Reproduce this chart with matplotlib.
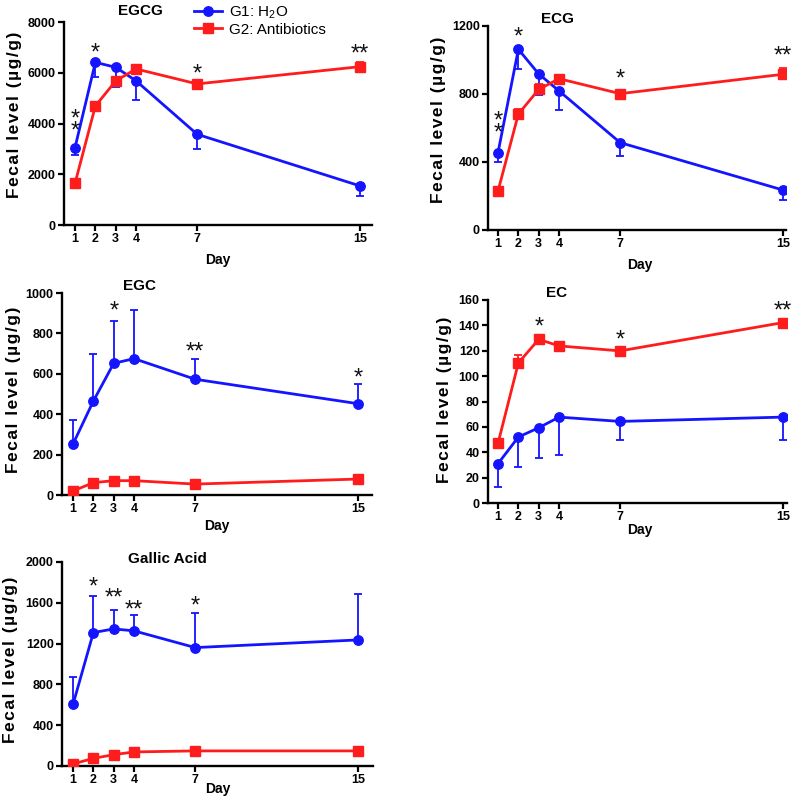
import numpy as np
import matplotlib
matplotlib.use("Agg")
import matplotlib.pyplot as plt

plt.rcParams['font.family'] = ['Liberation Sans', 'DejaVu Sans']
plt.rcParams['mathtext.fontset'] = 'custom'
plt.rcParams['mathtext.rm'] = 'Liberation Sans'

# ---------------- data ----------------
days = [1, 2, 3, 4, 7, 15]
compounds = ['EGCG', 'ECG', 'EGC', 'EC', 'Gallic Acid']

egcg_g1 = [3050, 6410, 6215, 5680, 3575, 1540]
egcg_g1_err = [290, 590, 785, 750, 575, 380]
egcg_g2 = [1640, 4690, 5680, 6150, 5560, 6240]
egcg_g2_err = [60, 100, 150, 100, 80, 170]

ecg_g1 = [455, 1063, 918, 818, 514, 235]
ecg_g1_err = [53, 116, 124, 112, 79, 59]
ecg_g2 = [229, 682, 827, 890, 802, 916]
ecg_g2_err = [10, 30, 32, 15, 12, 39]

egc_g1 = [252, 465, 652, 675, 573, 452]
egc_g1_err = [118, 235, 207, 242, 102, 98]
egc_g2 = [20, 61, 71, 71, 54, 79]
egc_g2_err = [5, 8, 8, 8, 6, 8]

ec_g1 = [31, 52, 59.3, 67.7, 64.3, 67.7]
ec_g1_err = [18, 24, 24, 30, 14.5, 18]
ec_g2 = [47, 110.4, 129, 123.8, 119.9, 142.2]
ec_g2_err = [1, 6.3, 3, 1.5, 1.5, 2]

ga_g1 = [603, 1308, 1344, 1325, 1161, 1236]
ga_g1_err = [272, 361, 181, 157, 337, 449]
ga_g2 = [20, 75, 111, 138, 148, 148]
ga_g2_err = [5, 10, 10, 10, 10, 10]

# significance marks: (day, y of the lowest star, label)
egcg_stars = [(1, 3980, '*\n*'), (2, 7056, '*'), (7, 6240, '*'), (15, 7030, '**')]
ecg_stars = [(1, 612, '*\n*'), (2, 1180, '*'), (7, 931, '*'), (15, 1063, '**')]
egc_stars = [(3, 945, '*'), (7, 744, '**'), (15, 617, '*')]
ec_stars = [(3, 144.3, '*'), (7, 134, '*'), (15, 156.6, '**')]
ga_stars = [(2, 1826, '*'), (3, 1718, '**'), (4, 1603, '**'), (7, 1640, '*')]

y_max = [8000, 1200, 1000, 160, 2000]
y_ticks = [[0, 2000, 4000, 6000, 8000], [0, 400, 800, 1200], [0, 200, 400, 600, 800, 1000],
           [0, 20, 40, 60, 80, 100, 120, 140, 160], [0, 400, 800, 1200, 1600, 2000]]

g1_all = [egcg_g1, ecg_g1, egc_g1, ec_g1, ga_g1]
g1_err_all = [egcg_g1_err, ecg_g1_err, egc_g1_err, ec_g1_err, ga_g1_err]
g2_all = [egcg_g2, ecg_g2, egc_g2, ec_g2, ga_g2]
g2_err_all = [egcg_g2_err, ecg_g2_err, egc_g2_err, ec_g2_err, ga_g2_err]
stars_all = [egcg_stars, ecg_stars, egc_stars, ec_stars, ga_stars]
g1_err_up = [False, False, True, False, True]   # blue bars drawn up or down
g2_err_up = [True, True, True, True, True]

# ---------------- layout (pixels in an 800x800 canvas) ----------------
W = H = 800.0
boxes = [(64, 372, 22, 225), (488, 786, 26, 230), (62, 372, 293, 495),
         (488, 787, 300, 503), (62, 373, 562, 766)]
title_pos = [(140, 11), (558, 19), (140, 286), (557, 293), (167, 559)]
ylab_pos = [(15, 115), (439, 120), (14, 390), (445, 400), (11, 660)]
day_pos = [(218, 260), (640, 265), (217, 526), (640, 530), (218, 789)]

BLUE = '#1414ff'
RED = '#ff1c1c'
STAR_FS = 17
# the original y label is letter-spaced; hair spaces between glyphs mimic that
YLABEL = '\u200a'.join('Fecal level (\u00b5g/g)')

fig = plt.figure(figsize=(8, 8), dpi=100)
axes = []
for i, (x0, x1, y0, y1) in enumerate(boxes):
    ax = fig.add_axes([x0 / W, 1 - y1 / H, (x1 - x0) / W, (y1 - y0) / H])
    axes.append(ax)
    # x range: day 1 sits ~10 px right of the y axis, 20.36 px per day
    ppd = 20.36
    left_day = 1 - (11 if i % 2 == 0 else 10) / ppd
    ax.set_xlim(left_day, left_day + (x1 - x0) / ppd)
    ax.set_ylim(0, y_max[i])

    for vals, errs, up, col, mk, z in [(g1_all[i], g1_err_all[i], g1_err_up[i], BLUE, 'o', 3),
                                       (g2_all[i], g2_err_all[i], g2_err_up[i], RED, 's', 4)]:
        vals = np.array(vals, dtype=float)
        errs = np.array(errs, dtype=float)
        yerr = [np.zeros_like(errs), errs] if up else [errs, np.zeros_like(errs)]
        ax.errorbar(days, vals, yerr=yerr, fmt='none', ecolor=col, elinewidth=1.3,
                    capsize=3.2, capthick=1.3, zorder=z)
        ax.plot(days, vals, color=col, lw=2.0, marker=mk, ms=6.8, zorder=z,
                label='G1: H$\\mathregular{_2}$O' if mk == 'o' else 'G2: Antibiotics')

    for d, yv, lab in stars_all[i]:
        ax.annotate(lab, (d, yv), xytext=(0, -0.58 * STAR_FS), textcoords='offset points',
                    ha='center', va='baseline', fontsize=STAR_FS, linespacing=0.42,
                    color='#111111', zorder=6)

    for s in ['top', 'right']:
        ax.spines[s].set_visible(False)
    for s in ['left', 'bottom']:
        ax.spines[s].set_linewidth(1.7)
    ax.set_xticks(days)
    ax.set_yticks(y_ticks[i])
    ax.tick_params(width=1.6, length=4, pad=2, labelsize=9)
    for lab in ax.get_xticklabels() + ax.get_yticklabels():
        lab.set_fontweight('bold')

    tx, ty = title_pos[i]
    fig.text(tx / W, 1 - ty / H, compounds[i], ha='center', va='center',
             fontsize=11, fontweight='bold')
    lx, ly = ylab_pos[i]
    fig.text(lx / W, 1 - ly / H, YLABEL, rotation=90, ha='center',
             va='center', fontsize=12.5, fontweight='bold')
    dx, dy = day_pos[i]
    fig.text(dx / W, 1 - dy / H, 'Day', ha='center', va='center', fontsize=10,
             fontweight='bold')

handles, labels = axes[0].get_legend_handles_labels()
fig.legend(handles, labels, loc='upper left', bbox_to_anchor=(188 / W, 1 + 2 / H),
           frameon=False, fontsize=11, handlelength=1.8, handletextpad=0.5,
           labelspacing=0.15, borderaxespad=0)

fig.savefig('out.png', dpi=100)
